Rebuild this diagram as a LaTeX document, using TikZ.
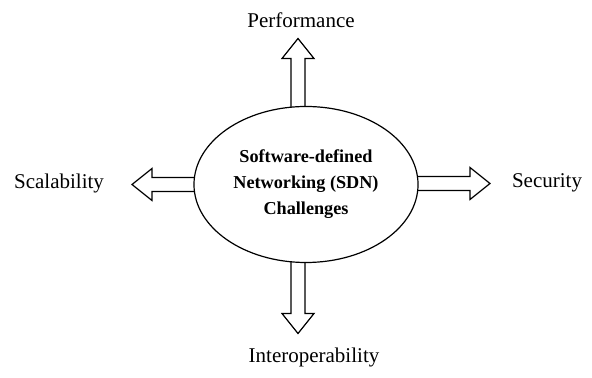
\documentclass[tikz,border=0pt]{standalone}
\usepackage{fontspec}
\setmainfont{Liberation Serif}
\usetikzlibrary{shapes.geometric,calc}

\tikzset{
  arrow length/.store in=\arrowlen, arrow length=60,
  hollow arrow/.pic={
    \draw[line width=0.6pt,fill=white] (0,-7) -- ({\arrowlen-20},-7) -- ({\arrowlen-20},-16)
      -- (\arrowlen,0) -- ({\arrowlen-20},16) -- ({\arrowlen-20},7) -- (0,7);
  }
}

\begin{document}
\begin{tikzpicture}[x=0.5pt,y=0.5pt]

  \tikzstyle{label}=[font=\fontsize{10.5}{12}\selectfont,inner sep=1pt]
  \tikzstyle{centre}=[ellipse,draw,line width=0.6pt,fill=white,minimum width=110pt,minimum height=78pt,
    align=center,font=\fontsize{9.1}{13}\selectfont\bfseries]

  \useasboundingbox (0,0) rectangle (592,-378);

  \coordinate (c) at (306,-184.5);

  % the four arrows first, the ellipse covers their feet
  \pic[rotate=90,arrow length=72]  at ($(c)+(-8,74)$)   {hollow arrow};
  \pic[rotate=-90,arrow length=74] at ($(c)+(-8,-75)$)  {hollow arrow};
  \pic[rotate=180,arrow length=68] at ($(c)+(-106,0)$)  {hollow arrow};
  \pic[arrow length=78]            at ($(c)+(106,1)$)   {hollow arrow};

  \node[centre] (core) at (c) {Software-defined\\Networking (SDN)\\Challenges};

  \node[label] (perf)  at (301,-20)  {Performance};
  \node[label] (scal)  at (59,-183)  {Scalability};
  \node[label] (secu)  at (547,-183) {Security};
  \node[label] (inter) at (314,-357) {Interoperability};

\end{tikzpicture}
\end{document}
